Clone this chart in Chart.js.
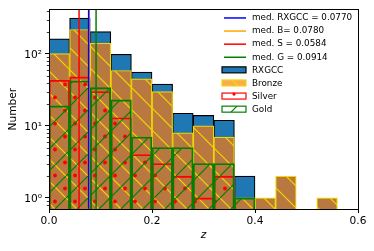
<!DOCTYPE html>
<html>
<head>
<meta charset="utf-8">
<script src="https://cdn.jsdelivr.net/npm/chart.js@4.4.1/dist/chart.umd.min.js"></script>
<style>
  body { margin: 0; background: #fff; }
  #wrap { width: 374px; height: 251px; position: relative; }
</style>
</head>
<body>
<div id="wrap"><canvas id="myChart"></canvas></div>
<script>
// histogram bins of z (width 0.04)
const binCenters = [0.02, 0.06, 0.10, 0.14, 0.18, 0.22, 0.26, 0.30, 0.34, 0.38, 0.42, 0.46, 0.50, 0.54];
const rxgcc  = [162, 315, 204, 99, 56, 38, 15, 14, 12, 2, null, null, null, null];
const bronze = [101, 219, 141, 59, 45, 30, 8, 10, 7, 1, 1, 2, null, 1];
const silver = [43, 48, 30, 13, 4, 3, 2, 1, 2, null, null, null, null, null];
const gold   = [19, 42, 34, 23, 7, 5, 5, 3, 3, 1, null, null, null, null];

const medians = [0.0770, 0.0780, 0.0584, 0.0914];
const medianColors = ['blue', 'orange', 'red', 'green'];
const medianLabels = ['med. RXGCC = 0.0770', 'med. B= 0.0780', 'med. S = 0.0584', 'med. G = 0.0914'];
const histLabels = ['RXGCC', 'Bronze', 'Silver', 'Gold'];

const xTicks = [0, 0.2, 0.4, 0.6];
const yMajor = [1, 10, 100];
const yMajorLabels = ['10⁰', '10¹', '10²'];
const yMinor = [0.8, 0.9, 2, 3, 4, 5, 6, 7, 8, 9, 20, 30, 40, 50, 60, 70, 80, 90, 200, 300, 400];
const yMin = 0.705, yMax = 417;

const YELLOW = '#f0d800';
const BROWN = '#b9783f';

function hatch(bg, color, kind) {
    var c = document.createElement('canvas');
    var g = c.getContext('2d');
    if (kind === '.') {
        c.width = 20; c.height = 26;
        if (bg) { g.fillStyle = bg; g.fillRect(0, 0, 20, 26); }
        g.fillStyle = color;
        [[5, 6.5], [15, 19.5]].forEach(p => {
            g.beginPath(); g.arc(p[0], p[1], 1.9, 0, Math.PI * 2); g.fill();
        });
    } else {
        var s = 22;
        c.width = s; c.height = s;
        if (bg) { g.fillStyle = bg; g.fillRect(0, 0, s, s); }
        g.strokeStyle = color; g.lineWidth = 1.2;
        [-s, 0, s].forEach(o => {
            g.beginPath();
            if (kind === '/') { g.moveTo(o, s); g.lineTo(o + s, 0); }
            else { g.moveTo(o, 0); g.lineTo(o + s, s); }
            g.stroke();
        });
    }
    return g.createPattern(c, 'repeat');
}

const toPoints = vals => vals.map((v, i) => ({ x: binCenters[i], y: v }));

function barSet(label, vals, bg, edge, order) {
    return {
        type: 'bar', label: label, data: toPoints(vals),
        backgroundColor: bg, borderColor: edge, borderWidth: 1.2,
        borderSkipped: 'start', barPercentage: 1, categoryPercentage: 1,
        grouped: false, order: order
    };
}

let datasets = [
    barSet('RXGCC', rxgcc, '#1f77b4', '#000', 7),
    barSet('Bronze', bronze, hatch(BROWN, YELLOW, '\\'), YELLOW, 6),
    barSet('Silver', silver, hatch(null, 'red', '.'), 'red', 5),
    barSet('Gold', gold, hatch(null, 'green', '/'), 'green', 4)
];
medians.forEach((m, i) => {
    datasets.push({
        type: 'line', label: medianLabels[i],
        data: [{ x: m, y: yMin }, { x: m, y: yMax }],
        borderColor: medianColors[i], borderWidth: 1.5,
        pointRadius: 0, order: i
    });
});

// frame, minor ticks and in-axes legend
const extras = {
    id: 'extras',
    afterDatasetsDraw(chart) {
        const ctx = chart.ctx, a = chart.chartArea, y = chart.scales.y;
        ctx.save();
        ctx.strokeStyle = '#000';
        ctx.lineWidth = 0.8;
        yMinor.forEach(v => {
            const py = Math.round(y.getPixelForValue(v)) + 0.5;
            ctx.beginPath(); ctx.moveTo(a.left, py); ctx.lineTo(a.left - 2.2, py); ctx.stroke();
        });
        ctx.lineWidth = 1;
        ctx.strokeRect(Math.round(a.left) + 0.5, Math.round(a.top) + 0.5,
            Math.round(a.right - a.left), Math.round(a.bottom - a.top));
        ctx.restore();
    },
    afterDraw(chart) {
        const ctx = chart.ctx, a = chart.chartArea;
        const x0 = a.right - 134, x1 = a.right - 112, tx = a.right - 106;
        ctx.save();
        ctx.font = '8.8px "DejaVu Sans"';
        ctx.textBaseline = 'middle';
        for (let i = 0; i < 8; i++) {
            const yy = a.top + 8.6 + i * 13.1;
            if (i < 4) {
                ctx.strokeStyle = medianColors[i]; ctx.lineWidth = 1.5;
                ctx.beginPath(); ctx.moveTo(x0, yy); ctx.lineTo(x1, yy); ctx.stroke();
            } else {
                const k = i - 4, py = yy - 3.5, h = 6;
                const fills = ['#1f77b4', '#fdaa58', '#fff', '#fff'];
                const edges = ['#000', YELLOW, 'red', 'green'];
                ctx.fillStyle = fills[k];
                ctx.fillRect(x0 - 2, py, x1 - x0 + 2, h);
                ctx.strokeStyle = edges[k]; ctx.lineWidth = 1.2;
                if (k === 1) {
                    ctx.beginPath(); ctx.moveTo(x0 + 8, py); ctx.lineTo(x0 + 14, py + h); ctx.stroke();
                }
                if (k === 2) {
                    ctx.fillStyle = 'red';
                    ctx.beginPath(); ctx.arc(x0 + 10, py + 1, 1.6, 0, Math.PI * 2); ctx.fill();
                }
                if (k === 3) {
                    ctx.beginPath(); ctx.moveTo(x0 + 7, py + h); ctx.lineTo(x0 + 13, py); ctx.stroke();
                }
                ctx.strokeRect(x0 - 2, py, x1 - x0 + 2, h);
                ctx.fillStyle = '#000';
                ctx.fillText(histLabels[k], tx, yy);
                continue;
            }
            ctx.fillStyle = '#000';
            ctx.fillText(medianLabels[i], tx, yy);
        }
        ctx.restore();
    }
};

Chart.defaults.font.family = '"DejaVu Sans"';
Chart.defaults.color = '#000';

var ctx = document.getElementById('myChart').getContext('2d');
var chart = new Chart(ctx, {
    type: 'bar',
    data: { datasets: datasets },
    plugins: [extras],
    options: {
        responsive: true,
        maintainAspectRatio: false,
        animation: false,
        layout: { padding: { top: 7, right: 16, left: 0, bottom: 0 } },
        plugins: { legend: { display: false }, tooltip: { enabled: false } },
        scales: {
            x: {
                type: 'linear', min: 0, max: 0.6, offset: false,
                afterBuildTicks: s => { s.ticks = xTicks.map(v => ({ value: v })); },
                afterFit: s => { s.height = 42; },
                grid: { offset: false, drawOnChartArea: false, tickLength: 4, color: '#000' },
                border: { display: false },
                ticks: { font: { size: 10.6 }, padding: 2, maxRotation: 0, callback: v => v.toFixed(1) },
                title: { display: true, text: 'z', font: { size: 10.6, style: 'italic' }, padding: { top: 0, bottom: 9 } }
            },
            y: {
                type: 'logarithmic', min: yMin, max: yMax,
                afterBuildTicks: s => { s.ticks = yMajor.map(v => ({ value: v })); },
                afterFit: s => { s.width = 49; },
                grid: { drawOnChartArea: false, tickLength: 4, color: '#000' },
                border: { display: false },
                ticks: { font: { size: 10.6 }, padding: 3, labelOffset: 1,
                    callback: v => yMajorLabels[yMajor.indexOf(v)] },
                title: { display: true, text: 'Number', font: { size: 10.6 }, padding: { top: 7, bottom: 0 } }
            }
        }
    }
});
</script>
</body>
</html>
